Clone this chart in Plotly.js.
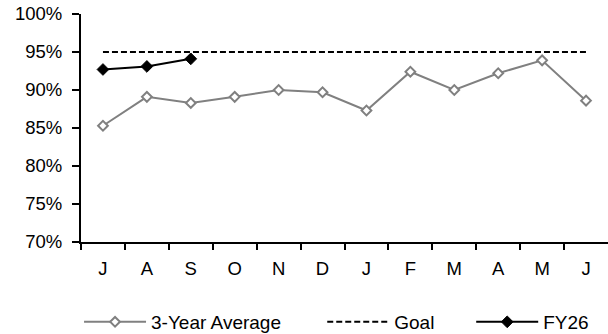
<!DOCTYPE html>
<html>
<head>
<meta charset="utf-8">
<script src="https://cdn.plot.ly/plotly-3.0.1.min.js"></script>
<style>
  html, body { margin: 0; padding: 0; background: #fff; }
  #chart { width: 608px; height: 334px; }
</style>
</head>
<body>
<div id="chart"></div>
<script>
// Fiscal-year months, July through June
const months = ["J", "A", "S", "O", "N", "D", "J", "F", "M", "A", "M", "J"];

// Monthly rate, percent
const threeYearAverage = [85.3, 89.1, 88.3, 89.1, 90.0, 89.7, 87.3, 92.4, 90.0, 92.2, 93.9, 88.6];
const fy26 = [92.7, 93.1, 94.1];
const goalValue = 95;

const yTicks = [70, 75, 80, 85, 90, 95, 100];

const idx = months.map((_, i) => i);
const goal = months.map(() => goalValue);
const boundaries = months.map((_, i) => i - 0.5);

const font = { family: "Liberation Sans, Arial, sans-serif", size: 18.5, color: "#000" };
const legendFont = { family: "Liberation Sans, Arial, sans-serif", size: 19, color: "#000" };

const traces = [
  {
    name: "3-Year Average",
    x: idx,
    y: threeYearAverage,
    mode: "lines+markers",
    line: { color: "#808080", width: 2 },
    marker: { symbol: "diamond", size: 7.5, color: "#fff", line: { color: "#808080", width: 2 } },
    legend: "legend"
  },
  {
    name: "Goal",
    x: idx,
    y: goal,
    mode: "lines",
    line: { color: "#000", width: 2, dash: "6px,3px" },
    legend: "legend2"
  },
  {
    name: "FY26",
    x: idx.slice(0, fy26.length),
    y: fy26,
    mode: "lines+markers",
    line: { color: "#000", width: 2 },
    marker: { symbol: "diamond", size: 9, color: "#000", line: { color: "#000", width: 1 } },
    legend: "legend3"
  }
];

const legendBase = {
  orientation: "h",
  xref: "container",
  yref: "container",
  yanchor: "middle",
  y: 0.036,
  font: legendFont,
  bgcolor: "rgba(0,0,0,0)",
  itemwidth: 62,
  traceorder: "normal"
};

const layout = {
  width: 608,
  height: 334,
  margin: { l: 81, r: 0, t: 14, b: 92 },
  paper_bgcolor: "#fff",
  plot_bgcolor: "#fff",
  font: font,
  showlegend: true,
  xaxis: {
    range: [-0.5, months.length - 0.5],
    tickmode: "array",
    tickvals: idx,
    ticktext: months,
    ticks: "outside",
    ticklen: 9,
    tickcolor: "rgba(0,0,0,0)",
    showline: true,
    linecolor: "#000",
    linewidth: 2,
    showgrid: false,
    zeroline: false,
    fixedrange: true,
    tickfont: font,
    minor: {
      tickmode: "array",
      tickvals: boundaries,
      ticks: "outside",
      ticklen: 6,
      tickwidth: 2,
      tickcolor: "#000",
      showgrid: false
    }
  },
  yaxis: {
    range: [70, 100],
    tickmode: "array",
    tickvals: yTicks,
    ticktext: yTicks.map(v => v + "%"),
    ticks: "outside",
    ticklen: 7,
    tickwidth: 2,
    tickcolor: "#000",
    showline: true,
    linecolor: "#000",
    linewidth: 2,
    showgrid: false,
    zeroline: false,
    fixedrange: true,
    tickfont: font,
    ticklabelstandoff: 6
  },
  legend: Object.assign({}, legendBase, { x: 0.13, xanchor: "left" }),
  legend2: Object.assign({}, legendBase, { x: 0.53, xanchor: "left" }),
  legend3: Object.assign({}, legendBase, { x: 0.775, xanchor: "left" })
};

Plotly.newPlot("chart", traces, layout, { displayModeBar: false, staticPlot: true });
</script>
</body>
</html>
